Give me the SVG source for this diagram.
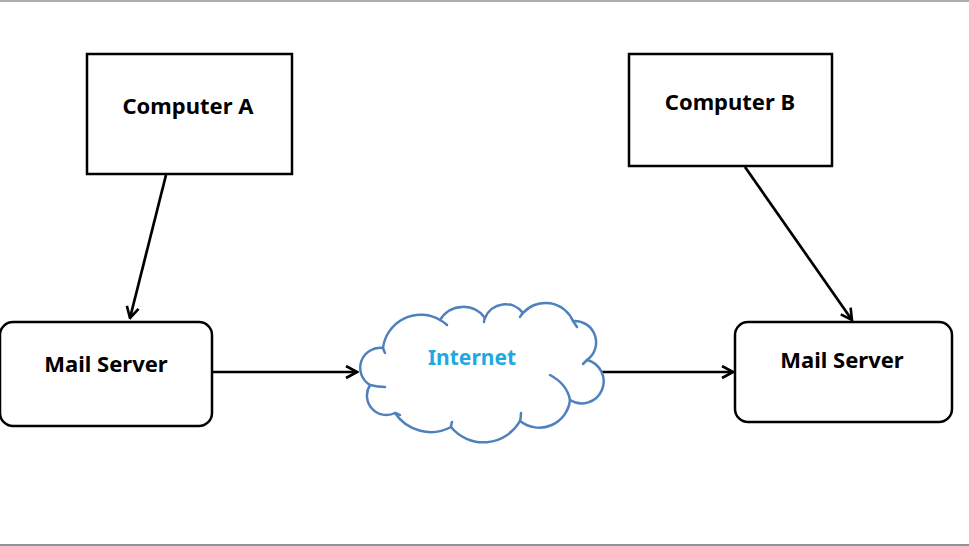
<svg xmlns="http://www.w3.org/2000/svg" width="969" height="546" viewBox="0 0 969 546">
<style>
.box{fill:#fff;stroke:#000;stroke-width:2.5}
.lbl{font-family:"Noto Sans","Open Sans",sans-serif;font-weight:bold;font-size:22px;fill:#000;text-anchor:middle}
.conn{stroke:#000;stroke-width:2.7;fill:none;marker-end:url(#arr)}
.cloud{fill:#fff;stroke:#4f81bd;stroke-width:2.5;stroke-linejoin:round}
.inner{fill:none;stroke:#4f81bd;stroke-width:2.5;stroke-linecap:round}
</style>
<defs>
<marker id="arr" viewBox="0 0 14 15" refX="12.5" refY="7.5" markerWidth="14" markerHeight="15" markerUnits="userSpaceOnUse" orient="auto">
<path d="M1.5,1.5 L12.5,7.5 L1.5,13.5" fill="none" stroke="#000" stroke-width="2.6" stroke-linejoin="miter"/>
</marker>
</defs>
<rect x="0" y="0" width="969" height="546" fill="#fff"/>
<rect x="0" y="0" width="969" height="2" fill="#a9aeb2"/>
<rect x="0" y="544" width="969" height="2" fill="#8c979b"/>
<g id="connectors">
<line class="conn" x1="166" y1="175" x2="130" y2="318"/>
<line class="conn" x1="745" y1="167" x2="852" y2="320"/>
<line class="conn" x1="212" y1="372" x2="357" y2="372"/>
<line class="conn" x1="602" y1="372" x2="733" y2="372"/>
</g>
<g id="computerA">
<rect class="box" x="87" y="54" width="205" height="120"/>
<text class="lbl" x="188" y="114">Computer A</text>
</g>
<g id="computerB">
<rect class="box" x="629" y="54" width="203" height="112"/>
<text class="lbl" x="730" y="110">Computer B</text>
</g>
<g id="mailServerA">
<rect class="box" x="0" y="322" width="212" height="104" rx="13"/>
<text class="lbl" x="106" y="372">Mail Server</text>
</g>
<g id="mailServerB">
<rect class="box" x="735" y="322" width="217" height="100" rx="13"/>
<text class="lbl" x="842" y="368">Mail Server</text>
</g>
<g id="internet">
<path class="cloud" d="M383,348 A38,38 0 0 1 440,320 A27,27 0 0 1 485,318 A22,22 0 0 1 523,313 A30,30 0 0 1 573,321 A21.5,21.5 0 0 1 587,360 A22,22 0 1 1 570,400 A31,31 0 0 1 520,421 A42,42 0 0 1 451,427 A43,43 0 0 1 395,413 A19.5,19.5 0 0 1 370,385 A20,20 0 0 1 383,348 Z"/>
<path class="inner" d="M370,385 Q378,387 385,387"/>
<path class="inner" d="M395,413 Q398,414 400,415"/>
<path class="inner" d="M451,427 Q451,425 452,422"/>
<path class="inner" d="M520,421 Q521,417 521,413"/>
<path class="inner" d="M550,375 Q567,384 570,400"/>
<path class="inner" d="M587,360 Q585,362 583,364"/>
<path class="inner" d="M573,321 Q575,324 577,327"/>
<path class="inner" d="M523,313 Q521,315 520,317"/>
<path class="inner" d="M485,318 Q484,320 484,322"/>
<path class="inner" d="M440,320 Q444,322 447,325"/>
<path class="inner" d="M383,348 Q384,351 385,353"/>
<text x="472" y="365" font-family="'Noto Sans','Open Sans',sans-serif" font-weight="bold" font-size="21px" fill="#1fa9e1" text-anchor="middle">Internet</text>
</g>
</svg>
